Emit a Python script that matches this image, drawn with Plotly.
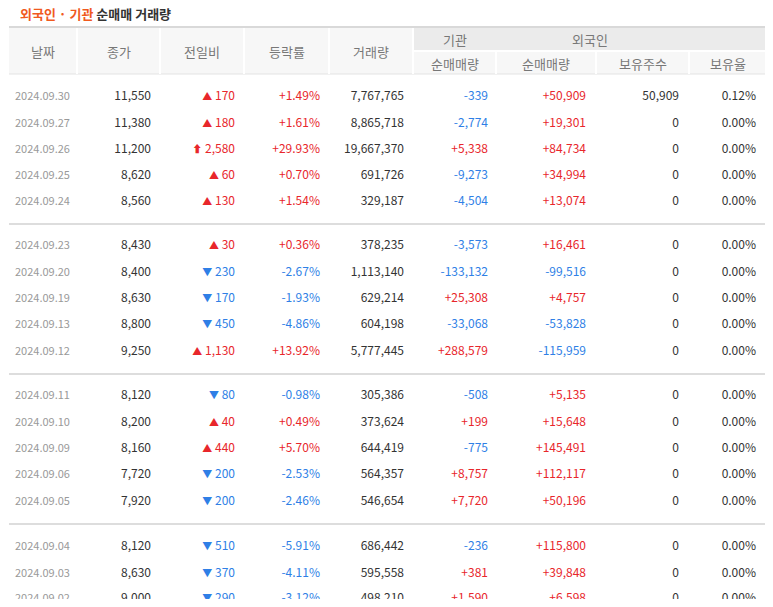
import plotly.graph_objects as go

dates = ["2024.09.30","2024.09.27","2024.09.26","2024.09.25","2024.09.24",
         "2024.09.23","2024.09.20","2024.09.19","2024.09.13","2024.09.12",
         "2024.09.11","2024.09.10","2024.09.09","2024.09.06","2024.09.05",
         "2024.09.04","2024.09.03","2024.09.02"]
close = [11550,11380,11200,8620,8560,8430,8400,8630,8800,9250,8120,8200,8160,7720,7920,8120,8630,9000]
change = [170,180,2580,60,130,30,-230,-170,-450,1130,-80,40,440,-200,-200,-510,-370,-290]
upper_limit = [False,False,True]+[False]*15
pct = [1.49,1.61,29.93,0.70,1.54,0.36,-2.67,-1.93,-4.86,13.92,-0.98,0.49,5.70,-2.53,-2.46,-5.91,-4.11,-3.12]
volume = [7767765,8865718,19667370,691726,329187,378235,1113140,629214,604198,5777445,305386,373624,644419,564357,546654,686442,595558,498210]
inst = [-339,-2774,5338,-9273,-4504,-3573,-133132,25308,-33068,288579,-508,199,-775,8757,7720,-236,381,1590]
frgn = [50909,19301,84734,34994,13074,16461,-99516,4757,-53828,-115959,5135,15648,145491,112117,50196,115800,39848,6598]
hold = [50909]+[0]*17
hold_pct = [0.12]+[0.00]*17

RED, BLUE, DARK, GREY = "#e8262b", "#2f7fe6", "#333333", "#999999"
FONT = "Noto Sans CJK KR"

row_y = [97,124,150,176,202, 246,273,299,325,352, 396,423,449,475,502, 547,574,599]
col_edges = [9,77,160,244,329,413,496,596,689,766]

fig = go.Figure()
def sgn(v): return BLUE if v < 0 else RED
def col(x, texts, colors, pos="middle left", size=12):
    fig.add_trace(go.Scatter(x=[x]*len(texts), y=row_y, mode="text", text=texts,
        textposition=pos, textfont=dict(family=FONT, size=size, color=colors),
        hoverinfo="skip", showlegend=False, cliponaxis=False))

col(15, dates, [GREY]*18, "middle right", 11)
col(151, [f"{v:,}" for v in close], [DARK]*18)
chg_txt = []
for v, u in zip(change, upper_limit):
    sym = "⬆" if u else ("▲" if v > 0 else "▼")
    chg_txt.append(f"<span style='font-size:10px'>{sym}</span> {abs(v):,}")
col(235, chg_txt, [sgn(v) for v in change])
col(320, [f"{v:+.2f}%" for v in pct], [sgn(v) for v in pct])
col(404, [f"{v:,}" for v in volume], [DARK]*18)
col(488, [f"{v:+,}" for v in inst], [sgn(v) for v in inst])
col(586, [f"{v:+,}" for v in frgn], [sgn(v) for v in frgn])
col(679, [f"{v:,}" for v in hold], [DARK]*18)
col(756, [f"{v:.2f}%" for v in hold_pct], [DARK]*18)

shapes = []
shapes.append(dict(type="rect", x0=9, x1=766, y0=27, y1=74, fillcolor="#f7f7f7", line_width=0, layer="below"))
shapes.append(dict(type="rect", x0=413, x1=766, y0=27, y1=51, fillcolor="#ebebeb", line_width=0, layer="below"))
shapes.append(dict(type="line", x0=9, x1=766, y0=27, y1=27, line=dict(color="#d9d9d9", width=2)))
shapes.append(dict(type="line", x0=9, x1=766, y0=74, y1=74, line=dict(color="#e3e3e3", width=1)))
for x in col_edges[1:6]:
    shapes.append(dict(type="line", x0=x, x1=x, y0=28, y1=74, line=dict(color="#ffffff", width=2)))
for x in col_edges[6:9]:
    shapes.append(dict(type="line", x0=x, x1=x, y0=51, y1=74, line=dict(color="#ffffff", width=2)))
shapes.append(dict(type="line", x0=413, x1=766, y0=51, y1=51, line=dict(color="#ffffff", width=2)))
for y in [224, 374, 524]:
    shapes.append(dict(type="line", x0=9, x1=766, y0=y, y1=y, line=dict(color="#dddddd", width=2)))

ann = []
hdr = dict(family=FONT, size=13, color="#777777")
for name, i in [("날짜",0),("종가",1),("전일비",2),("등락률",3),("거래량",4)]:
    ann.append(dict(x=(col_edges[i]+col_edges[i+1])/2, y=51, text=name, showarrow=False, font=hdr))
ann.append(dict(x=454.5, y=39, text="기관", showarrow=False, font=hdr))
ann.append(dict(x=589.5, y=39, text="외국인", showarrow=False, font=hdr))
for name, i in [("순매매량",5),("순매매량",6),("보유주수",7),("보유율",8)]:
    ann.append(dict(x=(col_edges[i]+col_edges[i+1])/2, y=63, text=name, showarrow=False, font=hdr))
ann.append(dict(x=18, y=13, xanchor="left", showarrow=False,
    text="<b><span style='color:#f05a1e'>외국인 · 기관</span> 순매매 거래량</b>",
    font=dict(family=FONT, size=13, color="#333333")))

fig.update_layout(width=757, height=591, margin=dict(l=0, r=0, t=0, b=0),
    paper_bgcolor="white", plot_bgcolor="white", shapes=shapes, annotations=ann,
    xaxis=dict(range=[8,765], visible=False, fixedrange=True),
    yaxis=dict(range=[599,8], visible=False, fixedrange=True))
fig.write_html("out.html", config={"displayModeBar": False})
